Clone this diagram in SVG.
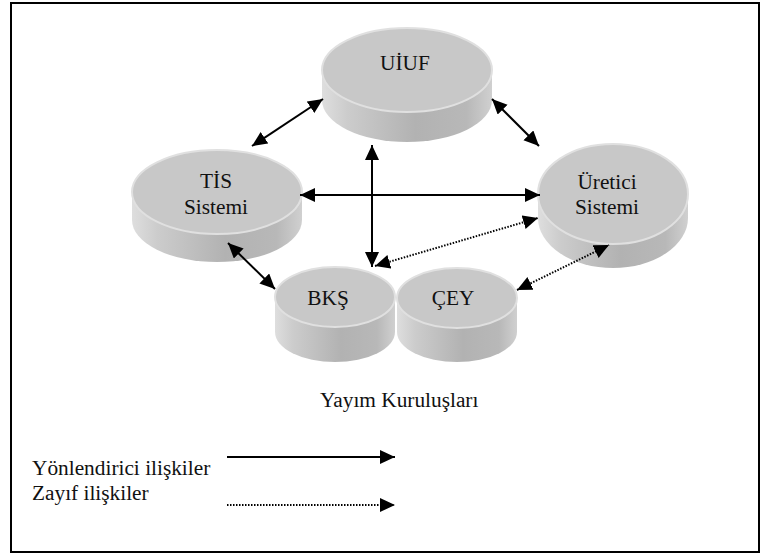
<svg xmlns="http://www.w3.org/2000/svg" width="771" height="554" viewBox="0 0 771 554">
  <style>
    text { font-family: "Liberation Serif", "Times New Roman", serif; font-size: 21.33px; fill: #111; }
    .mid { text-anchor: middle; }
    .top { fill: #c8c8c8; stroke: #e0e0e0; stroke-width: 2; }
    .side { fill: url(#sideShade); }
    .strong { stroke: #000; stroke-width: 2; fill: none; marker-start: url(#head); marker-end: url(#head); }
    .weak { stroke: #000; stroke-width: 2; fill: none; stroke-dasharray: 1.5 1.5; marker-start: url(#head); marker-end: url(#head); }
  </style>
  <defs>
    <linearGradient id="sideShade" x1="0" y1="0" x2="1" y2="0">
      <stop offset="0" stop-color="#dedede"/>
      <stop offset="0.15" stop-color="#cccccc"/>
      <stop offset="0.55" stop-color="#b2b2b2"/>
      <stop offset="0.85" stop-color="#b8b8b8"/>
      <stop offset="1" stop-color="#d0d0d0"/>
    </linearGradient>
    <marker id="head" markerUnits="userSpaceOnUse" markerWidth="16" markerHeight="16" refX="15" refY="7" orient="auto-start-reverse">
      <path d="M0,0 L15,7 L0,14 Z" fill="#000"/>
    </marker>
  </defs>

  <!-- frame -->
  <rect x="11" y="3" width="748" height="549" fill="#fff" stroke="#000" stroke-width="2"/>

  <!-- discs -->
  <g id="uiuf">
    <path class="side" d="M322,70 L322,100 A85,42 0 0 0 492,100 L492,70 Z"/>
    <ellipse class="top" cx="407" cy="70" rx="85" ry="42"/>
    <text class="mid" x="405" y="70">UİUF</text>
  </g>
  <g id="tis">
    <path class="side" d="M132,192 L132,220 A85,42 0 0 0 302,220 L302,192 Z"/>
    <ellipse class="top" cx="217" cy="192" rx="85" ry="42"/>
    <text class="mid" x="216" y="188">TİS</text>
    <text class="mid" x="216" y="214">Sistemi</text>
  </g>
  <g id="uretici">
    <path class="side" d="M538,194 L538,218 A75,50 0 0 0 688,218 L688,194 Z"/>
    <ellipse class="top" cx="613" cy="194" rx="75" ry="50"/>
    <text class="mid" x="607" y="189">Üretici</text>
    <text class="mid" x="607" y="214">Sistemi</text>
  </g>
  <g id="bks">
    <path class="side" d="M275,297 L275,332 A60,30 0 0 0 395,332 L395,297 Z"/>
    <ellipse class="top" cx="335" cy="297" rx="60" ry="30"/>
    <text class="mid" x="328" y="305">BKŞ</text>
  </g>
  <g id="cey">
    <path class="side" d="M397,298 L397,332 A60,30 0 0 0 517,332 L517,298 Z"/>
    <ellipse class="top" cx="457" cy="298" rx="60" ry="30"/>
    <text class="mid" x="453" y="305">ÇEY</text>
  </g>

  <!-- connectors -->
  <g id="connectors">
    <line class="strong" x1="252" y1="146" x2="323" y2="99"/>
    <line class="strong" x1="492" y1="99" x2="539" y2="146"/>
    <line class="strong" x1="372" y1="145" x2="372" y2="267"/>
    <line class="strong" x1="300" y1="195" x2="540" y2="195"/>
    <line class="strong" x1="228" y1="243" x2="275" y2="289"/>
    <line class="weak" x1="375" y1="266" x2="538" y2="218"/>
    <line class="weak" x1="517" y1="290" x2="609" y2="245"/>
  </g>

  <text x="320" y="407">Yayım Kuruluşları</text>

  <!-- legend -->
  <g id="legend">
    <text x="32" y="475">Yönlendirici ilişkiler</text>
    <text x="32" y="500">Zayıf ilişkiler</text>
    <line x1="227" y1="457" x2="395" y2="457" stroke="#000" stroke-width="2" marker-end="url(#head)"/>
    <line x1="227" y1="505" x2="395" y2="505" stroke="#000" stroke-width="2" stroke-dasharray="1.5 1.5" marker-end="url(#head)"/>
  </g>
</svg>
